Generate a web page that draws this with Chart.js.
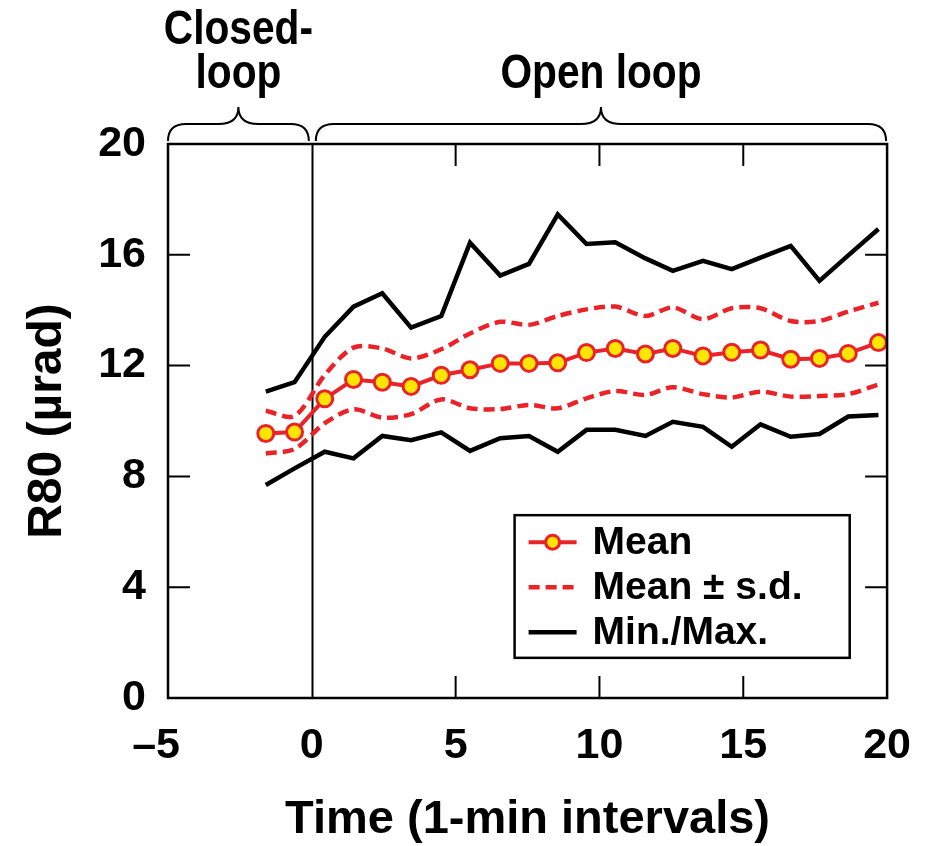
<!DOCTYPE html>
<html>
<head>
<meta charset="utf-8">
<script src="https://cdn.jsdelivr.net/npm/chart.js@4.4.1/dist/chart.umd.min.js"></script>
<style>
  html, body { margin: 0; padding: 0; background: #fff; }
  #wrap { width: 933px; height: 846px; }
</style>
</head>
<body>
<div id="wrap"><canvas id="chart" width="933" height="846"></canvas></div>
<script>
// time of each sample, in 1-min intervals
const times = [-1.6, -0.6, 0.45, 1.45, 2.45, 3.45, 4.5, 5.5, 6.55, 7.55, 8.55,
               9.55, 10.55, 11.6, 12.55, 13.6, 14.6, 15.6, 16.65, 17.65, 18.65, 19.7];
// R80 values, µrad
const meanVals  = [9.55, 9.6, 10.8, 11.5, 11.4, 11.25, 11.65, 11.85, 12.08, 12.08, 12.1,
                   12.47, 12.62, 12.42, 12.62, 12.35, 12.48, 12.56, 12.23, 12.26, 12.44, 12.83];
const upperVals = [10.37, 10.18, 11.66, 12.65, 12.62, 12.26, 12.59, 13.16, 13.58, 13.47, 13.79,
                   14.03, 14.13, 13.79, 14.1, 13.68, 14.07, 14.07, 13.61, 13.61, 13.95, 14.27];
const lowerVals = [8.83, 8.99, 9.92, 10.42, 10.12, 10.25, 10.78, 10.46, 10.43, 10.58, 10.46,
                   10.82, 11.08, 10.94, 11.22, 10.97, 10.85, 11.06, 10.88, 10.9, 10.97, 11.32];
const maxVals   = [11.06, 11.4, 13.04, 14.13, 14.61, 13.37, 13.79, 16.44, 15.25, 15.67, 17.46,
                   16.39, 16.45, 15.87, 15.42, 15.78, 15.48, 15.9, 16.32, 15.06, 15.98, 16.93];
const minVals   = [7.69, 8.29, 8.89, 8.65, 9.46, 9.31, 9.59, 8.92, 9.38, 9.46, 8.89,
                   9.68, 9.68, 9.46, 9.97, 9.79, 9.07, 9.88, 9.43, 9.53, 10.16, 10.22];

const xTicks = [-5, 0, 5, 10, 15, 20];
const yTicks = [0, 4, 8, 12, 16, 20];
const legendLabels = ['Mean', 'Mean \u00b1 s.d.', 'Min./Max.'];
const phases = [
  { label: ['Closed-', 'loop'], from: -5, to: 0 },
  { label: ['Open loop'], from: 0, to: 20 }
];

const RED = '#ec2229';
const YELLOW = '#ffe500';
const FONT = '"Liberation Sans", Arial, Helvetica, sans-serif';

const pts = vals => vals.map((v, i) => ({ x: times[i], y: v }));

// frame, inward ticks, the x=0 divider, braces and the boxed legend
const decorations = {
  id: 'decorations',
  beforeDatasetsDraw(chart) {
    const { ctx, chartArea: a, scales: { x } } = chart;
    ctx.save();
    ctx.strokeStyle = '#000';
    ctx.lineWidth = 2;
    const x0 = Math.round(x.getPixelForValue(0)) + 0.5;
    ctx.beginPath();
    ctx.moveTo(x0, a.top);
    ctx.lineTo(x0, a.bottom);
    ctx.stroke();
    ctx.restore();
  },
  afterDatasetsDraw(chart) {
    const { ctx, chartArea: a, scales: { x, y } } = chart;
    const tick = 22;
    ctx.save();
    ctx.strokeStyle = '#000';
    ctx.lineWidth = 2.5;
    ctx.strokeRect(a.left, a.top, a.right - a.left, a.bottom - a.top);
    ctx.lineWidth = 2;
    ctx.beginPath();
    yTicks.slice(1, -1).forEach(v => {
      const py = y.getPixelForValue(v);
      ctx.moveTo(a.left, py); ctx.lineTo(a.left + tick, py);
      ctx.moveTo(a.right, py); ctx.lineTo(a.right - tick, py);
    });
    xTicks.slice(2, -1).forEach(v => {
      const px = x.getPixelForValue(v);
      ctx.moveTo(px, a.bottom); ctx.lineTo(px, a.bottom - tick);
      ctx.moveTo(px, a.top); ctx.lineTo(px, a.top + tick);
    });
    ctx.stroke();

    // braces over the two phases, with condensed labels
    ctx.lineWidth = 2;
    phases.forEach((p, i) => {
      const x1 = x.getPixelForValue(p.from) + (i === 0 ? 0 : 4);
      const x2 = x.getPixelForValue(p.to) - (i === 0 ? 3 : 1);
      drawBrace(ctx, x1, x2, a.top - 3, a.top - 20, a.top - 37);
      const cx = (x1 + x2) / 2;
      ctx.fillStyle = '#000';
      ctx.font = 'bold 49px ' + FONT;
      ctx.textAlign = 'center';
      ctx.textBaseline = 'alphabetic';
      const lines = p.label;
      lines.forEach((t, k) => {
        ctx.save();
        ctx.translate(cx, 88 - (lines.length - 1 - k) * 44);
        ctx.scale(0.83, 1);
        ctx.fillText(t, 0, 0);
        ctx.restore();
      });
    });

    // legend
    const bx = x.getPixelForValue(7.05), by = y.getPixelForValue(6.6);
    const bw = x.getPixelForValue(18.7) - bx, bh = y.getPixelForValue(1.45) - by;
    ctx.fillStyle = '#fff';
    ctx.fillRect(bx, by, bw, bh);
    ctx.lineWidth = 2.5;
    ctx.strokeStyle = '#000';
    ctx.strokeRect(bx, by, bw, bh);
    const ds = chart.data.datasets;
    const items = [ds[0], ds[1], ds[3]];
    items.forEach((d, k) => {
      const ry = by + 27 + k * 45;
      const lx1 = bx + 14, lx2 = bx + 62;
      ctx.beginPath();
      ctx.strokeStyle = d.borderColor;
      ctx.lineWidth = d.borderWidth;
      ctx.setLineDash(d.borderDash || []);
      ctx.moveTo(lx1, ry); ctx.lineTo(lx2, ry);
      ctx.stroke();
      ctx.setLineDash([]);
      if (d.pointRadius > 0) {
        ctx.beginPath();
        ctx.arc((lx1 + lx2) / 2, ry, d.pointRadius - 1, 0, Math.PI * 2);
        ctx.fillStyle = d.pointBackgroundColor;
        ctx.fill();
        ctx.lineWidth = d.pointBorderWidth;
        ctx.strokeStyle = d.pointBorderColor;
        ctx.stroke();
      }
      ctx.fillStyle = '#000';
      ctx.font = 'bold 39px ' + FONT;
      ctx.textAlign = 'left';
      ctx.textBaseline = 'middle';
      ctx.fillText(legendLabels[k], bx + 78, ry + 1);
    });
    ctx.restore();
  }
};

function drawBrace(ctx, x1, x2, yEnd, yMid, yTip) {
  const xc = (x1 + x2) / 2, r = 18, t = 20;
  ctx.beginPath();
  ctx.moveTo(x1, yEnd);
  ctx.quadraticCurveTo(x1, yMid, x1 + r, yMid);
  ctx.lineTo(xc - t, yMid);
  ctx.quadraticCurveTo(xc, yMid, xc, yTip);
  ctx.quadraticCurveTo(xc, yMid, xc + t, yMid);
  ctx.lineTo(x2 - r, yMid);
  ctx.quadraticCurveTo(x2, yMid, x2, yEnd);
  ctx.stroke();
}

new Chart(document.getElementById('chart'), {
  type: 'line',
  data: {
    datasets: [
      {
        label: 'Mean', data: pts(meanVals),
        borderColor: RED, borderWidth: 4,
        pointRadius: 8, pointBorderWidth: 3,
        pointBackgroundColor: YELLOW, pointBorderColor: RED,
        tension: 0
      },
      {
        label: 'Mean + s.d.', data: pts(upperVals),
        borderColor: RED, borderWidth: 4.5, borderDash: [11, 6],
        pointRadius: 0, tension: 0.3
      },
      {
        label: 'Mean - s.d.', data: pts(lowerVals),
        borderColor: RED, borderWidth: 4.5, borderDash: [11, 6],
        pointRadius: 0, tension: 0.3
      },
      {
        label: 'Max.', data: pts(maxVals),
        borderColor: '#000', borderWidth: 4.5, pointRadius: 0, tension: 0
      },
      {
        label: 'Min.', data: pts(minVals),
        borderColor: '#000', borderWidth: 4.5, pointRadius: 0, tension: 0
      }
    ]
  },
  options: {
    responsive: false,
    animation: false,
    layout: { padding: { left: 0, right: 45, top: 144, bottom: 0 } },
    plugins: { legend: { display: false }, tooltip: { enabled: false } },
    scales: {
      x: {
        type: 'linear', min: -5, max: 20,
        afterBuildTicks: s => { s.ticks = xTicks.map(v => ({ value: v })); },
        afterFit: s => { s.height = 148; },
        grid: { display: false, drawTicks: false },
        border: { display: false },
        ticks: {
          padding: 22, color: '#000', maxRotation: 0,
          font: { family: FONT, size: 43, weight: 'bold' },
          callback: v => v < 0 ? '\u2013' + Math.abs(v) + '\u2007' : String(v)
        },
        title: {
          display: true, text: 'Time (1-min intervals)', color: '#000',
          font: { family: FONT, size: 47, weight: 'bold', lineHeight: 1 },
          padding: { top: 0, bottom: 2 }
        }
      },
      y: {
        type: 'linear', min: 0, max: 20,
        afterBuildTicks: s => { s.ticks = yTicks.map(v => ({ value: v })); },
        afterFit: s => { s.width = 168; },
        grid: { display: false, drawTicks: false },
        border: { display: false },
        ticks: {
          padding: 22, color: '#000',
          font: { family: FONT, size: 43, weight: 'bold' }
        },
        title: {
          display: true, text: 'R80 (\u00b5rad)', color: '#000',
          font: { family: FONT, size: 48, weight: 'bold', lineHeight: 1 },
          padding: { top: 24, bottom: 0 }
        }
      }
    }
  },
  plugins: [decorations]
});
</script>
</body>
</html>
